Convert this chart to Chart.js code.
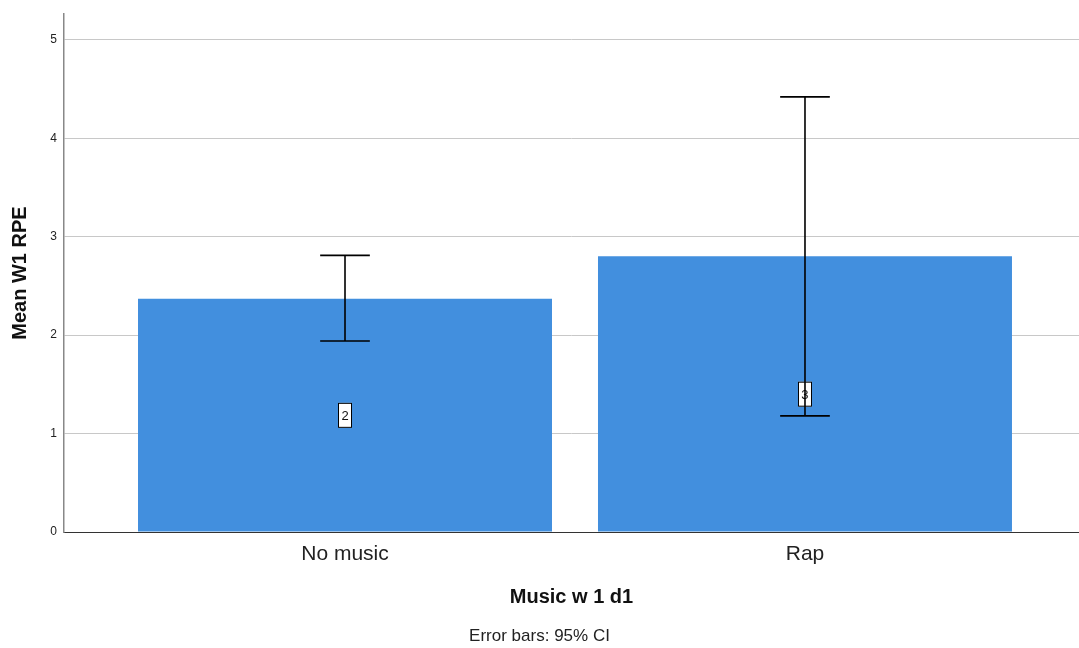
<!DOCTYPE html>
<html>
<head>
<meta charset="utf-8">
<script src="https://cdn.jsdelivr.net/npm/chart.js@4.4.0/dist/chart.umd.min.js"></script>
<style>
  html, body { margin: 0; padding: 0; background: #fff; }
  #wrap { width: 1079px; height: 648px; }
</style>
</head>
<body>
<div id="wrap"><canvas id="grafico"></canvas></div>
<script>
// dados
const categorias = ["No music", "Rap"];
const medias = [2.37, 2.80];
const icInferior = [1.94, 1.18];
const icSuperior = [2.81, 4.42];
const contagens = [2, 3];
const yTicks = [0, 1, 2, 3, 4, 5];

const fonte = "'Liberation Sans', Arial, sans-serif";

// barras de erro + caixinhas com N
const pluginErro = {
    id: "barrasErro",
    afterDatasetsDraw(chart) {
        const ctx = chart.ctx;
        const y = chart.scales.y;
        const meta = chart.getDatasetMeta(0);
        ctx.save();
        meta.data.forEach((bar, i) => {
            const cx = bar.x;
            const meia = bar.width * 0.06;

            // caixinha da contagem
            const yMeio = y.getPixelForValue(medias[i] / 2);
            const w = 14, h = 25;
            ctx.fillStyle = "#fff";
            ctx.fillRect(cx - w / 2, yMeio - h / 2, w, h);
            ctx.strokeStyle = "#000";
            ctx.lineWidth = 1;
            ctx.strokeRect(cx - w / 2 + 0.5, yMeio - h / 2 + 0.5, w - 1, h - 1);
            ctx.fillStyle = "#111";
            ctx.font = "13px " + fonte;
            ctx.textAlign = "center";
            ctx.textBaseline = "middle";
            ctx.fillText(String(contagens[i]), cx, yMeio + 1);

            // barra de erro
            const yTop = y.getPixelForValue(icSuperior[i]);
            const yBot = y.getPixelForValue(icInferior[i]);
            ctx.strokeStyle = "#000";
            ctx.lineWidth = 1.6;
            ctx.beginPath();
            ctx.moveTo(cx, yTop);
            ctx.lineTo(cx, yBot);
            ctx.moveTo(cx - meia, yTop);
            ctx.lineTo(cx + meia, yTop);
            ctx.moveTo(cx - meia, yBot);
            ctx.lineTo(cx + meia, yBot);
            ctx.stroke();
        });
        ctx.restore();
    }
};

// rodapé
const pluginRodape = {
    id: "rodape",
    afterDraw(chart) {
        const ctx = chart.ctx;
        ctx.save();
        ctx.fillStyle = "#222";
        ctx.font = "17px " + fonte;
        ctx.textAlign = "center";
        ctx.textBaseline = "middle";
        ctx.fillText("Error bars: 95% CI", chart.width / 2, 636);
        ctx.restore();
    }
};

const ctx = document.getElementById("grafico").getContext("2d");
new Chart(ctx, {
    type: "bar",
    data: {
        datasets: [{
            data: medias.map((v, i) => ({ x: i, y: v })),
            backgroundColor: "#428fde",
            borderWidth: 0,
            barPercentage: 0.9,
            categoryPercentage: 1.0
        }]
    },
    options: {
        responsive: true,
        maintainAspectRatio: false,
        animation: false,
        layout: { padding: { top: 11, right: 0, left: 0, bottom: 0 } },
        plugins: {
            legend: { display: false },
            tooltip: { enabled: false }
        },
        scales: {
            x: {
                type: "linear",
                offset: false,
                min: -0.6109,
                max: 1.5957,
                afterBuildTicks: (scale) => {
                    scale.ticks = categorias.map((c, i) => ({ value: i }));
                },
                afterFit: (scale) => { scale.height = 116; },
                grid: { display: false, drawTicks: false, offset: false },
                border: { display: true, color: "#333", width: 1 },
                ticks: {
                    padding: 10,
                    color: "#222",
                    font: { family: fonte, size: 21 },
                    callback: (v) => categorias[v]
                },
                title: {
                    display: true,
                    text: "Music w 1 d1",
                    color: "#111",
                    font: { family: fonte, size: 20, weight: "bold" },
                    padding: { top: 0, bottom: 39 }
                }
            },
            y: {
                min: 0,
                max: 5.26,
                afterBuildTicks: (scale) => {
                    scale.ticks = yTicks.map(v => ({ value: v }));
                },
                afterFit: (scale) => { scale.width = 64; },
                grid: { color: "#c8c8c8", lineWidth: 1, drawTicks: false },
                border: { display: true, color: "#888", width: 1.5 },
                ticks: {
                    padding: 7,
                    color: "#222",
                    font: { family: fonte, size: 12 }
                },
                title: {
                    display: true,
                    text: "Mean W1 RPE",
                    color: "#111",
                    font: { family: fonte, size: 20, weight: "bold" },
                    padding: { top: 8, bottom: 0 }
                }
            }
        }
    },
    plugins: [pluginErro, pluginRodape]
});
</script>
</body>
</html>
